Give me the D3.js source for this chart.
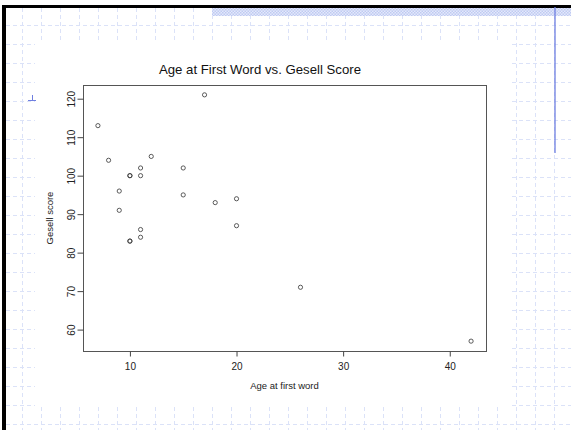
<!DOCTYPE html>
<html lang="en">
<head>
<meta charset="UTF-8">
<title>Age at First Word vs. Gesell Score</title>
<style>
  body { margin: 0; background: #fff; }
</style>
</head>
<body>
<div id="chart"></div>
<script src="https://d3js.org/d3.v7.min.js"></script>
<script>
// Gesell data: age at first word (months) and Gesell adaptive score
var ageFirstWord = [15, 26, 10, 9, 15, 20, 18, 11, 8, 20, 7, 9, 10, 11, 11, 10, 12, 42, 17, 11, 10];
var gesellScore  = [95, 71, 83, 91, 102, 87, 93, 100, 104, 94, 113, 96, 83, 84, 102, 100, 105, 57, 121, 86, 100];
var xTicks = [10, 20, 30, 40];
var yTicks = [60, 70, 80, 90, 100, 110, 120];
var title = "Age at First Word vs. Gesell Score";
var xTitle = "Age at first word";
var yTitle = "Gesell score";

var W = 571, H = 430;
var box = {left: 83, right: 486, top: 85, bottom: 351};
var font = "Arial, 'Liberation Sans', sans-serif";
var ink = "#222";

var svg = d3.select("#chart").append("svg")
    .attr("width", W)
    .attr("height", H);

// ---- slide background decoration (dashed grid, borders) ----
var gridColor = "#dbe2f8";
var deco = svg.append("g");
function gline(x1, y1, x2, y2) {
    deco.append("line")
        .attr("x1", x1).attr("y1", y1).attr("x2", x2).attr("y2", y2)
        .attr("stroke", gridColor).attr("stroke-width", 1)
        .attr("stroke-dasharray", "4,3");
}
var vx = d3.range(0, 29).map(k => 22.5 + 19 * k);
var hy = d3.range(0, 22).map(k => 25.5 + 19 * k);

// top band
gline(6, hy[0], W, hy[0]);
vx.forEach(x => gline(x, 8, x, 42));
// left + right bands
hy.slice(1, 21).forEach(y => { gline(6, y, 35, y); gline(512, y, W, y); });
gline(vx[0], 8, vx[0], H);
[vx[26], vx[27], vx[28]].forEach(x => gline(x, 8, x, H));
// bottom band
gline(6, hy[21], W, hy[21]);
vx.forEach(x => gline(x, 407, x, H));

// hatched top strip
var pat = svg.append("defs").append("pattern")
    .attr("id", "hatch").attr("width", 3).attr("height", 3)
    .attr("patternUnits", "userSpaceOnUse");
pat.append("rect").attr("width", 3).attr("height", 3).attr("fill", "#e4e9fb");
pat.append("rect").attr("width", 1.5).attr("height", 1.5).attr("fill", "#bfcaf2");
pat.append("rect").attr("x", 1.5).attr("y", 1.5).attr("width", 1.5).attr("height", 1.5).attr("fill", "#bfcaf2");
deco.append("rect").attr("x", 212).attr("y", 8).attr("width", W - 212).attr("height", 8)
    .attr("fill", "url(#hatch)");

// black borders
deco.append("rect").attr("x", 2).attr("y", 5).attr("width", 4).attr("height", H - 5).attr("fill", "#000");
deco.append("rect").attr("x", 2).attr("y", 5).attr("width", W - 2).attr("height", 3).attr("fill", "#000");

// blue guide line and marker
deco.append("line").attr("x1", 555).attr("y1", 7).attr("x2", 555).attr("y2", 153)
    .attr("stroke", "#6f7fe0").attr("stroke-width", 1.3);
deco.append("line").attr("x1", 28).attr("y1", 100.5).attr("x2", 36).attr("y2", 100.5)
    .attr("stroke", "#6f7fe0").attr("stroke-width", 1);
deco.append("line").attr("x1", 32.5).attr("y1", 95).attr("x2", 32.5).attr("y2", 100.5)
    .attr("stroke", "#6f7fe0").attr("stroke-width", 1);

// ---- the R-style plot ----
var x = d3.scaleLinear().domain([5.6, 43.4]).range([box.left, box.right]);
var y = d3.scaleLinear().domain([54.44, 123.56]).range([box.bottom, box.top]);

svg.append("rect")
    .attr("x", box.left + 0.5).attr("y", box.top + 0.5)
    .attr("width", box.right - box.left).attr("height", box.bottom - box.top)
    .attr("fill", "#fff").attr("stroke", "#555").attr("stroke-width", 1);

var xAxis = svg.append("g")
    .attr("transform", "translate(0," + (box.bottom + 0.5) + ")")
    .call(d3.axisBottom(x).tickValues(xTicks).tickSize(5).tickPadding(6));
xAxis.select(".domain").remove();
xAxis.selectAll("line").attr("stroke", "#444");
xAxis.selectAll("text").attr("font-size", 10).attr("fill", ink).attr("font-family", font);

var yAxis = svg.append("g")
    .attr("transform", "translate(" + (box.left + 0.5) + ",0)")
    .call(d3.axisLeft(y).tickValues(yTicks).tickSize(6));
yAxis.select(".domain").remove();
yAxis.selectAll("line").attr("stroke", "#444");
yAxis.selectAll("text")
    .attr("x", null).attr("dy", null)
    .attr("transform", "translate(-9,0) rotate(-90)")
    .attr("text-anchor", "middle")
    .attr("font-size", 10).attr("fill", ink).attr("font-family", font);

svg.append("g").selectAll("circle")
    .data(ageFirstWord)
    .join("circle")
    .attr("cx", (d, i) => x(d))
    .attr("cy", (d, i) => y(gesellScore[i]))
    .attr("r", 2.1)
    .attr("fill", "none")
    .attr("stroke", "#333")
    .attr("stroke-width", 0.8);

svg.append("text")
    .attr("x", 260).attr("y", 74)
    .attr("text-anchor", "middle")
    .attr("font-family", font).attr("fill", "#111")
    .attr("font-size", 13.2)
    .text(title);

svg.append("text")
    .attr("x", (box.left + box.right) / 2).attr("y", 389)
    .attr("text-anchor", "middle")
    .attr("font-family", font).attr("fill", ink)
    .attr("font-size", 9.5)
    .text(xTitle);

svg.append("text")
    .attr("transform", "translate(53," + (box.top + box.bottom) / 2 + ") rotate(-90)")
    .attr("text-anchor", "middle")
    .attr("font-family", font).attr("fill", ink)
    .attr("font-size", 9.5)
    .text(yTitle);
</script>
</body>
</html>
